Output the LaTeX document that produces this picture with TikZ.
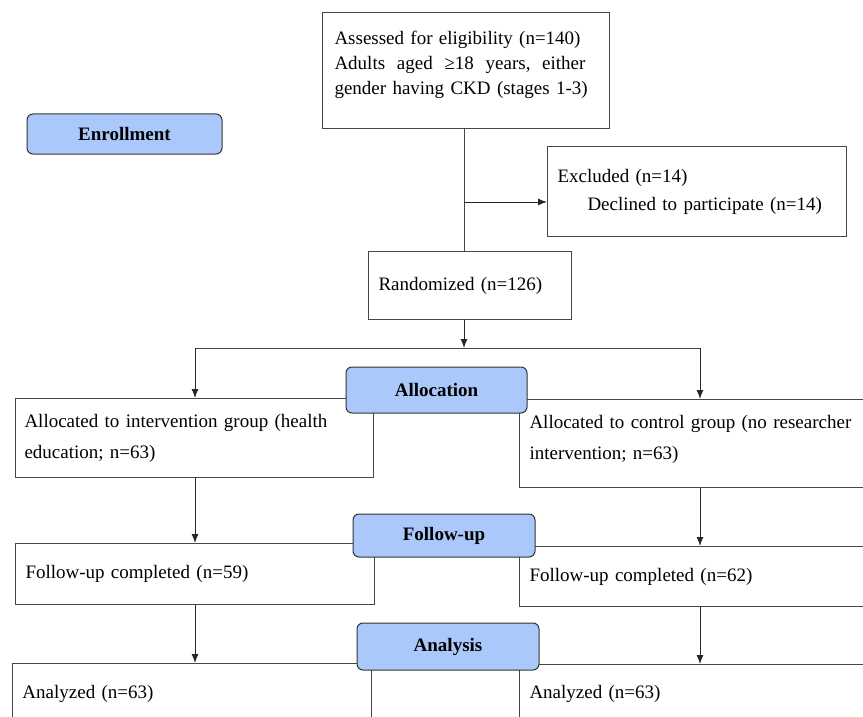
\documentclass[tikz,border=0pt]{standalone}
\usepackage{fontspec}
\setmainfont{Liberation Serif}
\usetikzlibrary{arrows.meta}
\definecolor{stageblue}{RGB}{170,200,250}
\definecolor{linegray}{RGB}{70,70,70}

\begin{document}
\begin{tikzpicture}
[x=1pt,y=-1pt,
  boxdecorate/.style={shape=rectangle,draw=linegray,line width=1pt,anchor=north west,
    inner xsep=10pt,inner ysep=0pt,align=left,font=\fontsize{19}{25}\selectfont},
  stagedecorate/.style={shape=rectangle,rounded corners=6pt,draw=black!80,fill=stageblue,
    line width=1pt,inner sep=0pt,font=\fontsize{19}{23}\selectfont\bfseries},
  linedecorate/.style={-,draw=linegray,line width=1pt},
  arrowdecorate/.style={-{Latex[length=9pt,width=7pt]},draw=black!85,line width=1pt}]
\clip (0,0) rectangle (863,717);
%% boxes
\node (assess) at (322,12) [boxdecorate,minimum width=287pt,minimum height=116pt,text width=263pt,inner xsep=12pt]
  {Assessed for eligibility (n=140)\\
   \makebox[251pt][l]{Adults\hfill aged\hfill ≥18\hfill years,\hfill either}\\
   gender having CKD (stages 1-3)\rule[-15pt]{0pt}{15pt}};
\node (excluded) at (547,146) [boxdecorate,minimum width=299pt,minimum height=90pt,text width=279pt]
  {Excluded (n=14)\\[3pt]
   \hspace*{30pt}Declined to participate (n=14)};
\node (random) at (368,251) [boxdecorate,minimum width=203pt,minimum height=68pt,text width=183pt]
  {Randomized (n=126)};
\node (allocleft) at (15,398) [boxdecorate,minimum width=358pt,minimum height=79pt,text width=340pt,inner xsep=9pt]
  {Allocated to intervention group (health\\[6pt] education; n=63)};
\node (allocright) at (519,399) [boxdecorate,minimum width=360pt,minimum height=88pt,text width=340pt]
  {Allocated to control group (no researcher\\[6pt] intervention; n=63)\rule[-12pt]{0pt}{12pt}};
\foreach \nodename/\x/\y/\w/\h/\txt in {fuleft/15/543/359/61/Follow-up completed (n=59),
  furight/519/546/360/60/Follow-up completed (n=62),
  anleft/12/663/359/60/Analyzed (n=63),
  anright/519/664/360/58/Analyzed (n=63)} {
  \node (\nodename) at (\x,\y) [boxdecorate,minimum width=\w pt,minimum height=\h pt,text width=\w pt-20pt] {\txt};
}
%% connectors
\coordinate (trunk) at (464,202);
\coordinate (split) at (464,348);
\coordinate (splitleft) at (195,348);
\coordinate (splitright) at (700,348);
\draw[linedecorate] (assess.south -| trunk) -- (random.north -| trunk);
\draw[arrowdecorate] (trunk) -- (excluded.west |- trunk);
\draw[arrowdecorate] (random.south -| split) -- (split);
\draw[linedecorate] (splitleft) -- (splitright);
\foreach \endnode/\col in {allocleft/splitleft, allocright/splitright} {
  \draw[arrowdecorate] (\col) -- (\endnode.north -| \col);
}
\foreach \startnode/\endnode/\col in {allocleft/fuleft/splitleft, allocright/furight/splitright,
  fuleft/anleft/splitleft, furight/anright/splitright} {
  \draw[arrowdecorate] (\startnode.south -| \col) -- (\endnode.north -| \col);
}
%% stage labels
\foreach \nodename/\x/\y/\w/\h/\txt in {enroll/124.5/134/195/40/Enrollment,
  alloc/436.5/390/181/46/Allocation,
  followup/444/535.5/182/43/Follow-up,
  analysis/448/646.5/182/47/Analysis} {
  \node (\nodename) at (\x,\y) [stagedecorate,minimum width=\w pt,minimum height=\h pt] {\txt};
}
\end{tikzpicture}
\end{document}
